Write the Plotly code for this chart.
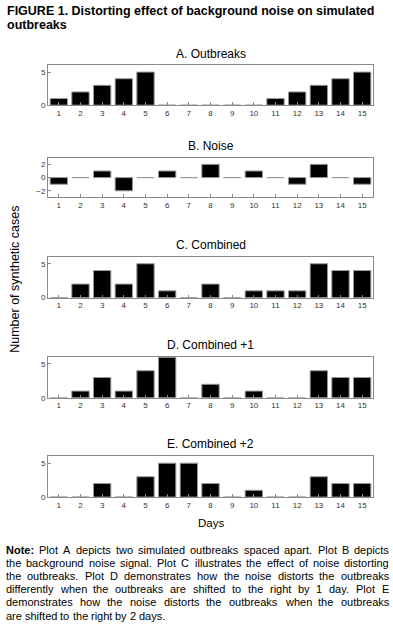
import plotly.graph_objects as go

days = list(range(1, 16))
day_labels = [str(d) for d in days]
outbreaks = [1, 2, 3, 4, 5, 0, 0, 0, 0, 0, 1, 2, 3, 4, 5]
noise = [-1, 0, 1, -2, 0, 1, 0, 2, 0, 1, 0, -1, 2, 0, -1]
combined = [0, 2, 4, 2, 5, 1, 0, 2, 0, 1, 1, 1, 5, 4, 4]
combined_p1 = [0, 1, 3, 1, 4, 6, 0, 2, 0, 1, 0, 0, 4, 3, 3]
combined_p2 = [0, 0, 2, 0, 3, 5, 5, 2, 0, 1, 0, 0, 3, 2, 2]

panel_titles = ["A. Outbreaks", "B. Noise", "C. Combined", "D. Combined +1", "E. Combined +2"]
series = [outbreaks, noise, combined, combined_p1, combined_p2]
y_ranges = [[0, 6], [-3, 3], [0, 6], [0, 6], [0, 6]]
y_ticks = [[0, 5], [-2, 0, 2], [0, 5], [0, 5], [0, 5]]

note_lines = [
    "Note: Plot A depicts two simulated outbreaks spaced apart. Plot B depicts",
    "the background noise signal. Plot C illustrates the effect of noise distorting",
    "the outbreaks. Plot D demonstrates how the noise distorts the outbreaks",
    "differently when the outbreaks are shifted to the right by 1 day. Plot E",
    "demonstrates how the noise distorts the outbreaks when the outbreaks",
    "are shifted to the right by 2 days.",
]

W, H = 393, 639
FONT = "Liberation Sans, Arial, sans-serif"
boxes = [(66, 106), (159, 199), (259, 300), (360, 401), (460, 501)]
x0, x1 = 48, 373

fig = go.Figure()
layout = dict(
    width=W, height=H,
    margin=dict(l=0, r=0, t=0, b=0),
    paper_bgcolor="white", plot_bgcolor="white",
    showlegend=False,
    font=dict(family=FONT, color="black"),
    bargap=0.2,
)
annotations = []
for i, (vals, title) in enumerate(zip(series, panel_titles)):
    n = i + 1
    xa = "x" if n == 1 else f"x{n}"
    ya = "y" if n == 1 else f"y{n}"
    fig.add_trace(go.Bar(
        x=days, y=vals, xaxis=xa, yaxis=ya,
        marker=dict(color="black", line=dict(color="#999999", width=1)),
        width=0.8, hoverinfo="skip",
    ))
    top, bot = boxes[i]
    axis_common = dict(
        showline=True, linecolor="#8a8a8a", linewidth=1, mirror=True,
        showgrid=False, zeroline=False,
        ticks="inside", ticklen=3, tickcolor="#8a8a8a",
        tickfont=dict(size=8, color="#333333", family=FONT),
    )
    layout["xaxis" if n == 1 else f"xaxis{n}"] = dict(
        domain=[x0 / W, x1 / W], anchor=ya, range=[0.5, 15.5],
        tickmode="array", tickvals=days, ticktext=day_labels, **axis_common,
    )
    layout["yaxis" if n == 1 else f"yaxis{n}"] = dict(
        domain=[1 - bot / H, 1 - top / H], anchor=xa, range=y_ranges[i],
        tickmode="array", tickvals=y_ticks[i], **axis_common,
    )
    annotations.append(dict(
        text=title, x=(x0 + x1) / 2 / W, y=1 - (top - 12) / H,
        xref="paper", yref="paper", showarrow=False,
        xanchor="center", yanchor="middle",
        font=dict(size=12, family=FONT, color="black"),
    ))

title_lines = ["<b>FIGURE 1. Distorting effect of background noise on simulated</b>",
               "<b>outbreaks</b>"]
for k, line in enumerate(title_lines):
    annotations.append(dict(
        text=line, x=5 / W, y=1 - (11 + 14 * k) / H, xref="paper", yref="paper",
        showarrow=False, xanchor="left", yanchor="middle", align="left",
        font=dict(size=12.5, family=FONT, color="black"),
    ))
annotations.append(dict(
    text="Number of synthetic cases", textangle=-90,
    x=15 / W, y=1 - 282 / H, xref="paper", yref="paper", showarrow=False,
    xanchor="center", yanchor="middle",
    font=dict(size=12.5, family=FONT, color="black"),
))
annotations.append(dict(
    text="Days", x=(x0 + x1) / 2 / W, y=1 - 527 / H,
    xref="paper", yref="paper", showarrow=False,
    xanchor="center", yanchor="middle",
    font=dict(size=11.5, family=FONT, color="black"),
))

# Arial / Liberation Sans advance widths (per 1000 em) for justified note text
ARIAL = {' ': 278, '.': 278, ',': 278, ':': 278, '0': 556, '1': 556, '2': 556,
         'A': 667, 'B': 667, 'C': 722, 'D': 722, 'E': 667, 'N': 722, 'P': 667}
ARIAL.update(dict(zip("abcdefghijklmnopqrstuvwxyz",
                      [556, 556, 500, 556, 556, 278, 556, 556, 222, 222, 500, 222, 833,
                       556, 556, 556, 556, 333, 500, 278, 556, 500, 722, 500, 500, 500])))
ARIAL_BOLD = {'N': 722, 'o': 611, 't': 333, 'e': 556, ':': 333}

NOTE_SIZE = 11
NOTE_L, NOTE_R = 5, 388


def word_width(w, bold=False):
    tbl = ARIAL_BOLD if bold else ARIAL
    return sum(tbl.get(c, 556) for c in w) / 1000 * NOTE_SIZE


for k, line in enumerate(note_lines):
    y = 1 - (554 + 13.3 * k) / H
    words = line.split(" ")
    bolds = [k == 0 and j == 0 for j in range(len(words))]
    widths = [word_width(w, b) for w, b in zip(words, bolds)]
    last = k == len(note_lines) - 1
    if last:
        gap = ARIAL[' '] / 1000 * NOTE_SIZE
    else:
        gap = (NOTE_R - NOTE_L - sum(widths)) / (len(words) - 1)
    xpos = NOTE_L
    for w, b, wd in zip(words, bolds, widths):
        annotations.append(dict(
            text=f"<b>{w}</b>" if b else w, x=(xpos - 1) / W, y=y,
            xref="paper", yref="paper", showarrow=False,
            xanchor="left", yanchor="middle", align="left",
            font=dict(size=NOTE_SIZE, family=FONT, color="black"),
        ))
        xpos += wd + gap

layout["annotations"] = annotations
fig.update_layout(**layout)
fig.write_html("out.html", config={"displayModeBar": False, "staticPlot": True},
               post_script="document.body.style.margin='0';document.body.style.overflow='hidden';")
